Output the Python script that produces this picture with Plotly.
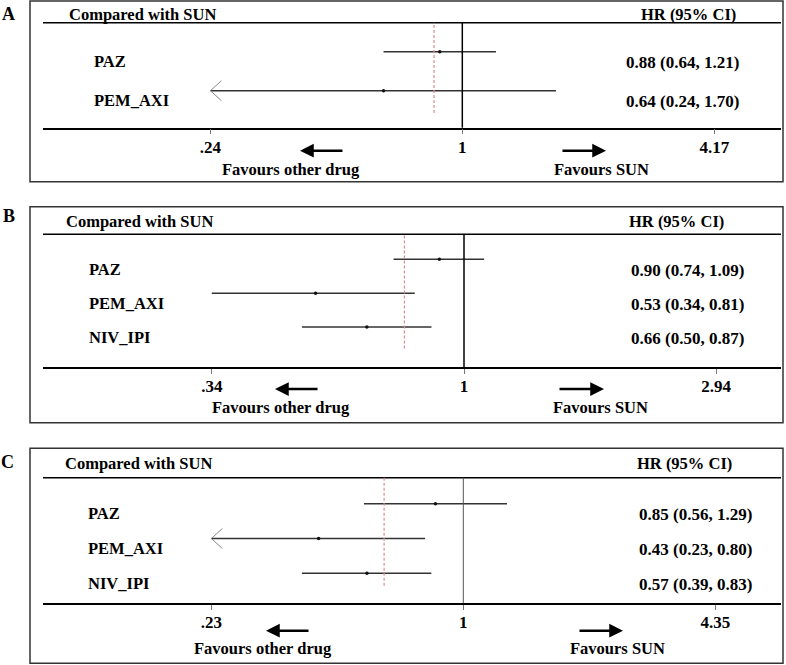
import plotly.graph_objects as go

W, H = 786, 665
FONT = "Liberation Serif"

# ---------------- data ----------------
panel_letters = ["A", "B", "C"]
comparator = "SUN"

drugs_A = ["PAZ", "PEM_AXI"]
hr_A = [0.88, 0.64]
lo_A = [0.64, 0.24]
hi_A = [1.21, 1.70]
trunc_A = [False, True]

drugs_B = ["PAZ", "PEM_AXI", "NIV_IPI"]
hr_B = [0.90, 0.53, 0.66]
lo_B = [0.74, 0.34, 0.50]
hi_B = [1.09, 0.81, 0.87]
trunc_B = [False, False, False]

drugs_C = ["PAZ", "PEM_AXI", "NIV_IPI"]
hr_C = [0.85, 0.43, 0.57]
lo_C = [0.56, 0.23, 0.39]
hi_C = [1.29, 0.80, 0.83]
trunc_C = [False, True, False]

# dashed reference line (red) per panel
ref_hr = [0.852, 0.775, 0.63]

tickvals_A = [0.24, 1, 4.17]
ticktext_A = [".24", "1", "4.17"]
tickvals_B = [0.34, 1, 2.94]
ticktext_B = [".34", "1", "2.94"]
tickvals_C = [0.23, 1, 4.35]
ticktext_C = [".23", "1", "4.35"]

# ---------------- layout geometry (pixels) ----------------
def fx(p):
    return p / W

def fy(p):
    return 1 - p / H

panels = [
    dict(letter=panel_letters[0], drugs=drugs_A, hr=hr_A, lo=lo_A, hi=hi_A, trunc=trunc_A,
         ref=ref_hr[0], tv=tickvals_A, tt=ticktext_A,
         box=(30, 1, 783, 181.7), letter_xy=(8, 14), head_y=15, head_line=22.7,
         axis_y=127.7, yrange=[2.949, 0.256], xrange=[-1.0318, 0.7842],
         comp_x=66.7, hr_right=737.7, lab_x=92.3, val_cx=682,
         arr_y=150.7, larr=(300, 344), rarr=(561, 606), fav_y=169, fav_l=290.8, fav_r=601.3,
         vcolor="black", vwidth=1.5),
    dict(letter=panel_letters[1], drugs=drugs_B, hr=hr_B, lo=lo_B, hi=hi_B, trunc=trunc_B,
         ref=ref_hr[1], tv=tickvals_B, tt=ticktext_B,
         box=(30, 206.7, 783, 422.7), letter_xy=(9, 216), head_y=221, head_line=234.3,
         axis_y=367, yrange=[4.18, 0.2614], xrange=[-0.7821, 0.5889],
         comp_x=64, hr_right=726, lab_x=86.7, val_cx=687.2,
         arr_y=389, larr=(275, 319), rarr=(558, 604), fav_y=407, fav_l=281, fav_r=600,
         vcolor="black", vwidth=1.5),
    dict(letter=panel_letters[2], drugs=drugs_C, hr=hr_C, lo=lo_C, hi=hi_C, trunc=trunc_C,
         ref=ref_hr[2], tv=tickvals_C, tt=ticktext_C,
         box=(30, 448.3, 783, 663.3), letter_xy=(7.5, 462), head_y=463.3, head_line=477.7,
         axis_y=603.3, yrange=[3.862, 0.253], xrange=[-1.0649, 0.8049],
         comp_x=63, hr_right=733.7, lab_x=86, val_cx=695.5,
         arr_y=630.7, larr=(266, 310), rarr=(578, 623), fav_y=648.7, fav_l=263.3, fav_r=617.8,
         vcolor="#555555", vwidth=1),
]

X_LEFT, X_RIGHT = 43, 781

fig = go.Figure()
shapes = []
annotations = []
layout_axes = {}

def txt(text, x, y, size, xanchor="center", yref="paper", yshift=0):
    return dict(text=text, x=x, y=y, xref="paper", yref=yref, xanchor=xanchor,
                yanchor="middle", yshift=yshift, showarrow=False,
                font=dict(family=FONT, size=size, color="black", weight="bold"))

for k, p in enumerate(panels):
    idx = "" if k == 0 else str(k + 1)
    xname, yname = "x" + idx, "y" + idx
    rows = list(range(1, len(p["drugs"]) + 1))

    # CI + point estimate
    fig.add_trace(go.Scatter(
        x=p["hr"], y=rows, xaxis=xname, yaxis=yname, mode="markers",
        marker=dict(size=3.5, color="#111111"),
        error_x=dict(type="data", symmetric=False,
                     array=[h - m for h, m in zip(p["hi"], p["hr"])],
                     arrayminus=[m - l for m, l in zip(p["hr"], p["lo"])],
                     width=0, thickness=1.4, color="#333333"),
        showlegend=False, hoverinfo="skip"))

    # axes
    layout_axes["xaxis" + idx] = dict(
        type="log", range=p["xrange"], domain=[fx(X_LEFT), fx(X_RIGHT)],
        anchor=yname, showgrid=False, zeroline=False,
        showline=True, linecolor="black", linewidth=1.5,
        ticks="outside", ticklen=5, tickwidth=1, tickcolor="#777777",
        tickvals=p["tv"], ticktext=p["tt"], ticklabelstandoff=-2,
        tickfont=dict(family=FONT, size=17, color="black", weight="bold"),
        fixedrange=True)
    layout_axes["yaxis" + idx] = dict(
        range=p["yrange"], domain=[fy(p["axis_y"]), fy(p["head_line"])],
        anchor=xname, visible=False, showgrid=False, zeroline=False, fixedrange=True)

    # outer box
    x0, y0, x1, y1 = p["box"]
    shapes.append(dict(type="rect", xref="paper", yref="paper",
                       x0=fx(x0), x1=fx(x1), y0=fy(y1), y1=fy(y0),
                       line=dict(color="#333333", width=1.5)))
    # header line
    shapes.append(dict(type="line", xref="paper", yref="paper",
                       x0=fx(X_LEFT), x1=fx(X_RIGHT), y0=fy(p["head_line"]), y1=fy(p["head_line"]),
                       line=dict(color="black", width=1.5)))
    # line of no effect
    shapes.append(dict(type="line", xref=xname, yref=yname + " domain",
                       x0=1, x1=1, y0=0, y1=1,
                       line=dict(color=p["vcolor"], width=p["vwidth"])))
    # dashed reference
    shapes.append(dict(type="line", xref=xname, yref=yname + " domain",
                       x0=p["ref"], x1=p["ref"], y0=0.14, y1=1,
                       line=dict(color="#e08a8f", width=1.2, dash="3px,2px")))
    # truncated CI -> open arrow head
    for r, (l, t) in zip(rows, zip(p["lo"], p["trunc"])):
        if t:
            for sgn in (1, -1):
                shapes.append(dict(type="line", xref=xname, yref=yname,
                                   xsizemode="pixel", xanchor=l, x0=0, x1=11,
                                   ysizemode="pixel", yanchor=r, y0=0, y1=10 * sgn,
                                   line=dict(color="#8a8a8a", width=1)))

    # texts
    annotations.append(txt(p["letter"], fx(p["letter_xy"][0]), fy(p["letter_xy"][1]), 18))
    annotations.append(txt("Compared with " + comparator, fx(p["comp_x"]), fy(p["head_y"]), 16.5, "left"))
    annotations.append(txt("HR (95% CI)", fx(p["hr_right"]), fy(p["head_y"]), 16.5, "right"))
    for r, d, h, l, u in zip(rows, p["drugs"], p["hr"], p["lo"], p["hi"]):
        annotations.append(txt(d, fx(p["lab_x"]), r, 16.5, "left", yref=yname, yshift=-10))
        annotations.append(txt(f"{h:.2f} ({l:.2f}, {u:.2f})", fx(p["val_cx"]), r, 17,
                               "center", yref=yname, yshift=-11))
    # favour arrows
    la, ra = p["larr"], p["rarr"]
    annotations.append(dict(text="", x=fx(la[0]), y=fy(p["arr_y"]), xref="paper", yref="paper",
                            ax=la[1] - la[0], ay=0, axref="pixel", ayref="pixel",
                            showarrow=True, arrowhead=2, arrowsize=1.1, arrowwidth=2.5,
                            arrowcolor="black", standoff=0, startstandoff=0))
    annotations.append(dict(text="", x=fx(ra[1]), y=fy(p["arr_y"]), xref="paper", yref="paper",
                            ax=ra[0] - ra[1], ay=0, axref="pixel", ayref="pixel",
                            showarrow=True, arrowhead=2, arrowsize=1.1, arrowwidth=2.5,
                            arrowcolor="black", standoff=0, startstandoff=0))
    annotations.append(txt("Favours other drug", fx(p["fav_l"]), fy(p["fav_y"]), 16.5))
    annotations.append(txt("Favours " + comparator, fx(p["fav_r"]), fy(p["fav_y"]), 16.5))

fig.update_layout(
    width=W, height=H, margin=dict(l=0, r=0, t=0, b=0),
    paper_bgcolor="white", plot_bgcolor="rgba(0,0,0,0)",
    shapes=shapes, annotations=annotations, showlegend=False,
    font=dict(family=FONT, color="black"),
    **layout_axes)

fig.write_html("out.html", config=dict(displayModeBar=False),
               post_script="document.body.style.margin='0';document.body.style.overflow='hidden';")
